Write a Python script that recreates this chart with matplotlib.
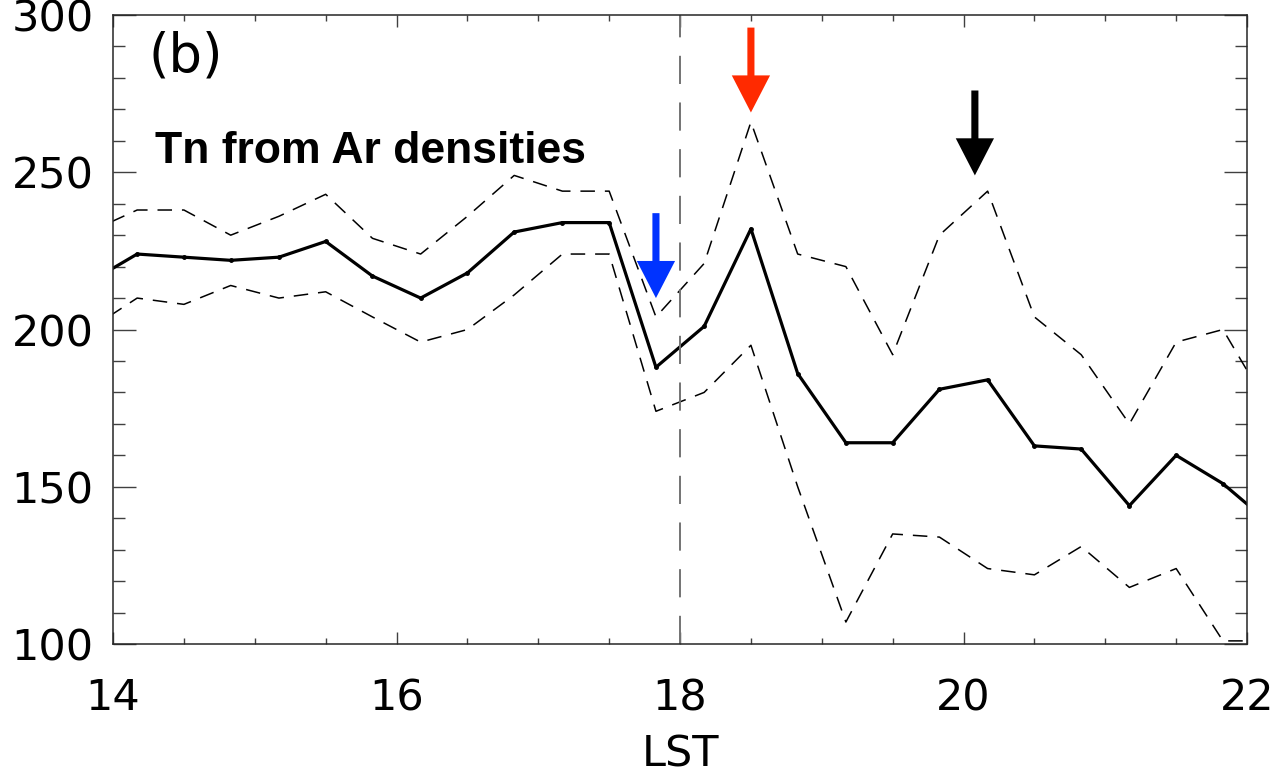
# Tn a partir de densidades de Ar, panel (b)

import matplotlib.pyplot as plt
from matplotlib.ticker import MultipleLocator

# %% Datos (hora local LST y temperatura)
lst = [13.83, 14.17, 14.5, 14.83, 15.17, 15.5, 15.83, 16.17, 16.5, 16.83,
       17.17, 17.5, 17.83, 18.17, 18.5, 18.83, 19.17, 19.5, 19.83, 20.17,
       20.5, 20.83, 21.17, 21.5, 21.83, 22.17]
tn = [215, 224, 223, 222, 223, 228, 217, 210, 218, 231,
      234, 234, 188, 201, 232, 186, 164, 164, 181, 184,
      163, 162, 144, 160, 151, 138]
tn_sup = [231, 238, 238, 230, 236, 243, 229, 224, 236, 249,
          244, 244, 204, 221, 266, 224, 220, 192, 230, 244,
          204, 192, 170, 196, 200, 174]
tn_inf = [200, 210, 208, 214, 210, 212, 204, 196, 200, 211,
          224, 224, 174, 180, 195, 150, 107, 135, 134, 124,
          122, 131, 118, 124, 101, 101]

# flechas: posicion x, punta y, extremo y, color
flecha_x = [17.83, 18.5, 20.08]
flecha_punta = [210, 269, 249]
flecha_cola = [237, 296, 276]
flecha_color = ['#0033ff', '#ff2a00', 'black']

# %% Figura
fig = plt.figure(figsize=(12.76, 7.78), dpi=100)
ax = fig.add_axes([0.0886, 0.1722, 0.9773 - 0.0886, 0.9807 - 0.1722])

ax.plot(lst, tn, color='black', lw=2.3, marker='o', ms=2.5)
ax.plot(lst, tn_sup, color='black', lw=1.1, dashes=(9.5, 6.5))
ax.plot(lst, tn_inf, color='black', lw=1.1, dashes=(9.5, 6.5))
ax.axvline(18, color='0.45', lw=1.4, dashes=(14.5, 9.5))

for x, y0, y1, c in zip(flecha_x, flecha_punta, flecha_cola, flecha_color):
    ax.arrow(x, y1, 0, y0 - y1, width=0.05, head_width=0.27, head_length=11.8,
             length_includes_head=True, color=c, lw=0)

ax.set_xlim(14, 22)
ax.set_ylim(100, 300)
ax.xaxis.set_major_locator(MultipleLocator(2))
ax.xaxis.set_minor_locator(MultipleLocator(0.5))
ax.yaxis.set_major_locator(MultipleLocator(50))
ax.yaxis.set_minor_locator(MultipleLocator(10))

ax.tick_params(axis='both', which='both', direction='in', top=True, right=True,
               color='0.25', width=1.0, labelsize=31)
ax.tick_params(axis='x', which='major', length=8.6, pad=24)
ax.tick_params(axis='x', which='minor', length=4.3)
ax.tick_params(axis='y', which='major', length=16.6, pad=14)
ax.tick_params(axis='y', which='minor', length=8.3)
for s in ax.spines.values():
    s.set_linewidth(1.1)
    s.set_color('0.15')

fig.canvas.draw()
ylabs = ax.get_yticklabels()
ylabs[0].set_va('bottom')
ylabs[-1].set_va('top')

ax.set_xlabel('LST', fontsize=31, labelpad=10)
ax.text(0.031, 0.975, '(b)', transform=ax.transAxes, fontsize=38, va='top')
ax.text(0.037, 0.765, 'Tn from Ar densities', transform=ax.transAxes,
        fontsize=32, fontweight='bold', family='Liberation Sans', va='baseline')

fig.savefig('out.png', dpi=100)
